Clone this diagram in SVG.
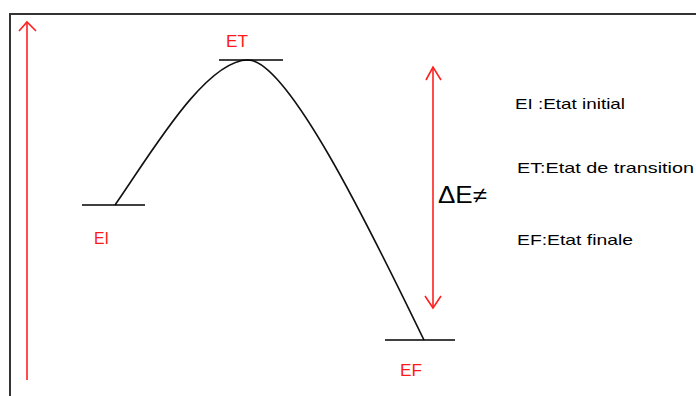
<svg xmlns="http://www.w3.org/2000/svg" width="696" height="396" viewBox="0 0 696 396">
  <style>
    .lvl { stroke: #000; stroke-width: 1.6; fill: none; }
    .lbl { font-family: "Liberation Sans", Arial, sans-serif; font-size: 16px; fill: #ff1a1a; }
    .leg { font-family: "Liberation Sans", Arial, sans-serif; font-size: 15px; fill: #000; }
    .red { stroke: #ff2020; stroke-width: 1.6; fill: none; }
    .curve { stroke: #111; stroke-width: 1.6; fill: none; }
  </style>
  <rect x="0" y="0" width="696" height="396" fill="#fff"/>
  <path d="M10,400 L10,14 L700,14" stroke="#333" stroke-width="2" fill="none"/>

  <g id="connectors">
    <path class="curve" d="M115,205 C150,155 205,60 248,60 C290,60 380,250 424,340"/>
    <g id="axis-arrow">
      <line class="red" x1="27" y1="380" x2="27" y2="23"/>
      <polyline class="red" points="19,31 27,22 36,31"/>
    </g>
    <g id="delta-arrow">
      <line class="red" x1="433" y1="68" x2="433" y2="307"/>
      <polyline class="red" points="426,80 433,67 441,80"/>
      <polyline class="red" points="425,296 433,308 441,296"/>
    </g>
  </g>

  <g id="EI">
    <line class="lvl" x1="82" y1="205" x2="145" y2="205"/>
    <text class="lbl" x="94" y="244" textLength="15" lengthAdjust="spacingAndGlyphs">EI</text>
  </g>
  <g id="ET">
    <line class="lvl" x1="219" y1="60" x2="283" y2="60"/>
    <text class="lbl" x="226" y="47" textLength="22" lengthAdjust="spacingAndGlyphs">ET</text>
  </g>
  <g id="EF">
    <line class="lvl" x1="385" y1="340" x2="455" y2="340"/>
    <text class="lbl" x="400" y="376" textLength="22" lengthAdjust="spacingAndGlyphs">EF</text>
  </g>

  <text id="delta-label" x="438" y="203" font-family="'Liberation Sans', Arial, sans-serif" font-size="23" fill="#000" textLength="49" lengthAdjust="spacingAndGlyphs">ΔE≠</text>

  <g id="legend">
    <text class="leg" x="515" y="109" textLength="110" lengthAdjust="spacingAndGlyphs">EI :Etat initial</text>
    <text class="leg" x="517" y="173" textLength="177" lengthAdjust="spacingAndGlyphs">ET:Etat de transition</text>
    <text class="leg" x="517" y="245" textLength="116" lengthAdjust="spacingAndGlyphs">EF:Etat finale</text>
  </g>
</svg>
